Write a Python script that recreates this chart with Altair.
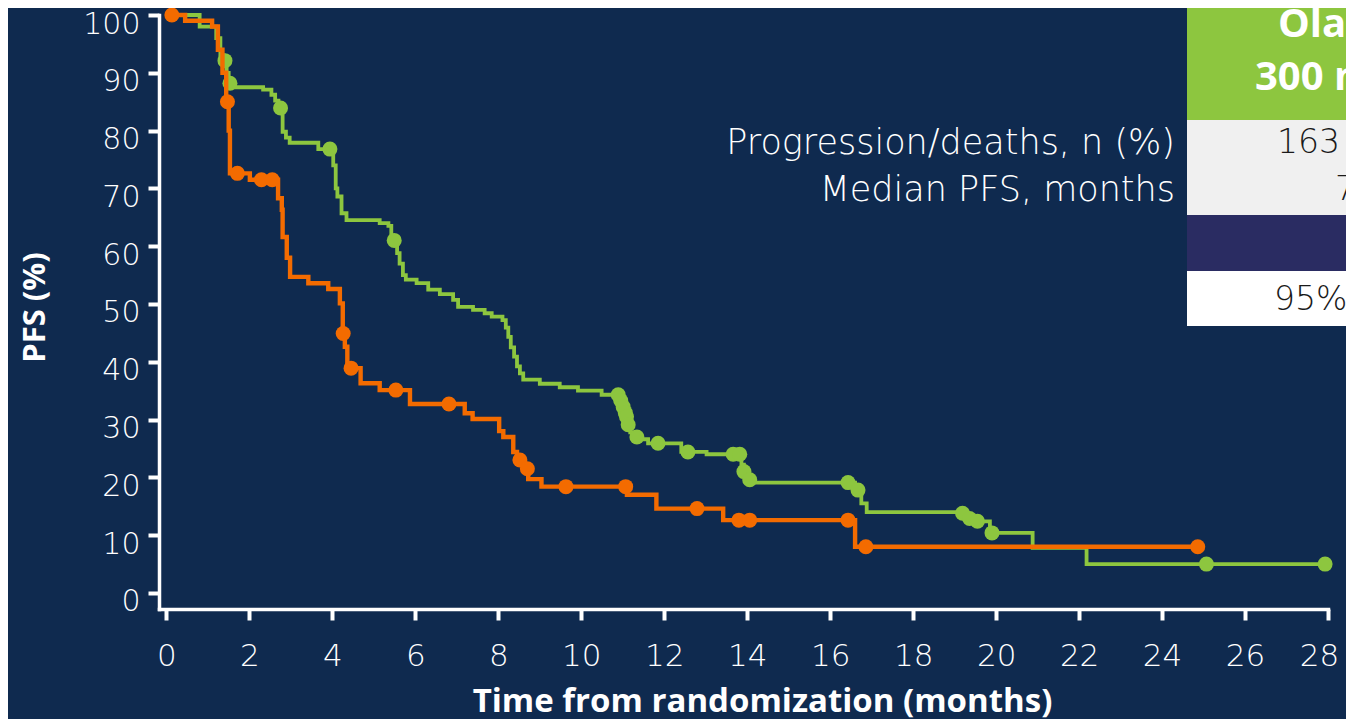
import altair as alt
import pandas as pd

# ---------------- data ----------------
# Olaparib arm (green) – step curve: time (months) and PFS (%) after each step
green_t = [0, 0.8, 1.2, 1.3, 1.38, 1.45, 1.5, 1.6, 2.33, 2.53, 2.62, 2.70, 2.80, 2.88, 2.97,
           3.66, 4.02, 4.08, 4.12, 4.22, 4.34, 5.14, 5.35, 5.42, 5.56, 5.62, 5.70, 5.77,
           6.03, 6.31, 6.59, 6.91, 7.03, 7.39, 7.67, 7.84, 8.10, 8.18, 8.24, 8.30, 8.38,
           8.45, 8.52, 8.60, 9.00, 9.48, 9.92, 10.49, 10.93, 10.98, 11.03, 11.07, 11.10,
           11.18, 11.30, 11.40, 11.61, 12.41, 13.02, 13.86, 13.92, 13.98, 14.12, 16.60,
           16.75, 16.88, 19.28, 19.45, 19.85, 20.88, 22.18, 27.93]
green_v = [100, 98, 96, 93, 92.1, 90, 88.2, 87.5, 87.1, 86.2, 85.2, 83.9, 79.8, 78.8, 77.9,
           76.8, 74, 70, 68.6, 65.7, 64.5, 64.0, 63.5, 61.0, 58.8, 57.0, 55.0, 54.2,
           53.6, 52.5, 51.7, 50.7, 49.5, 49.0, 48.4, 47.8, 47.2, 45.9, 44.3, 42.5, 40.9,
           39.2, 38.0, 36.9, 36.2, 35.6, 35.0, 34.3, 33.3, 32.2, 31.2, 30.5, 29.1,
           27.8, 27.0, 26.6, 25.9, 24.4, 24.0, 22.2, 21.0, 19.6, 19.1, 17.8,
           15.5, 14.0, 12.9, 12.4, 10.4, 7.8, 5.0, 5.0]
green_cens_t = [1.41, 1.53, 2.75, 3.94, 5.49, 10.89, 10.95, 11.01, 11.06, 11.09, 11.13, 11.34,
                11.85, 12.57, 13.66, 13.82, 13.92, 14.06, 16.43, 16.67, 19.19, 19.36, 19.55,
                19.90, 25.07, 27.93]
green_cens_v = [92.1, 88.2, 83.9, 76.8, 61.0, 34.3, 33.3, 32.2, 31.2, 30.5, 29.1, 27.0,
                25.9, 24.4, 24.0, 24.0, 21.0, 19.6, 19.1, 17.8, 13.8, 12.9, 12.4,
                10.4, 5.0, 5.0]

# Control arm (orange)
orange_t = [0, 0.45, 1.1, 1.24, 1.35, 1.44, 1.50, 1.53, 2.01, 2.69, 2.78, 2.80, 2.90, 2.98,
            3.42, 3.90, 4.18, 4.25, 4.30, 4.36, 4.68, 5.14, 5.87, 7.19, 7.38, 8.02, 8.12,
            8.36, 8.45, 8.62, 8.72, 9.04, 11.10, 11.81, 13.42, 16.60, 24.86]
orange_v = [100, 99, 98, 94, 90, 85, 80, 72.6, 71.5, 68.3, 66.3, 61.6, 58.0, 54.7,
            53.6, 52.6, 50.1, 44.9, 42.6, 38.9, 36.3, 35.1, 32.7, 31.1, 30.1, 28.0, 27.0,
            24.4, 23.0, 21.5, 19.7, 18.4, 17.0, 14.6, 12.6, 8.0, 8.0]
orange_cens_t = [0.13, 1.47, 1.71, 2.29, 2.55, 4.26, 4.45, 5.53, 6.81, 8.52, 8.70, 9.63, 11.07,
                 12.79, 13.80, 14.06, 16.43, 16.86, 24.86]
orange_cens_v = [100, 85.0, 72.6, 71.5, 71.5, 44.9, 38.9, 35.1, 32.7, 23.0, 21.5, 18.4, 18.4,
                 14.6, 12.6, 12.6, 12.6, 8.0, 8.0]

x_ticks = list(range(0, 29, 2))
y_ticks = list(range(0, 101, 10))

row_labels = ["Progression/deaths, n (%)", "Median PFS, months"]
header_lines = ["Olaparib", "300 mg"]
cell_values = ["163", "7", "95%"]

# ---------------- styling ----------------
BG = "#0f2a4f"
GREEN = "#8dc63f"
ORANGE = "#f36b00"
BOLDFONT = "Open Sans"
TEXTFONT = "DejaVu Sans"

W, H = 1169, 594
X_DOM = [-0.18, 28]
Y_DOM = [-2.77, 100]

green_df = pd.DataFrame({"t": green_t, "v": green_v})
orange_df = pd.DataFrame({"t": orange_t, "v": orange_v})
green_c = pd.DataFrame({"t": green_cens_t, "v": green_cens_v})
orange_c = pd.DataFrame({"t": orange_cens_t, "v": orange_cens_v})

xs = alt.Scale(domain=X_DOM, nice=False, zero=False)
ys = alt.Scale(domain=Y_DOM, nice=False, zero=False)

x_axis = alt.Axis(values=x_ticks, title="Time from randomization (months)",
                  labelPadding=21, titleX=603, titleY=92, titleAlign="center",
                  titleBaseline="middle", labelFlush=False, titleFontSize=33,
                  labelOffset={"condition": {"test": "datum.value === 28", "value": -9},
                               "value": 0})
y_axis = alt.Axis(values=y_ticks, title="PFS (%)", labelPadding=8,
                  titleX=-124, titleY=292, titleAlign="center",
                  titleBaseline="middle", titleAngle=270, labelOffset=9,
                  titleFontSize=31, labelFontSize=30)

base_line = alt.Chart(green_df).mark_line(
    interpolate="step-after", color=GREEN, strokeWidth=3.8
).encode(
    x=alt.X("t:Q", scale=xs, axis=x_axis),
    y=alt.Y("v:Q", scale=ys, axis=y_axis),
)
green_pts = alt.Chart(green_c).mark_circle(color=GREEN, size=225, opacity=1).encode(
    x=alt.X("t:Q", scale=xs), y=alt.Y("v:Q", scale=ys)
)
orange_line = alt.Chart(orange_df).mark_line(
    interpolate="step-after", color=ORANGE, strokeWidth=4.4
).encode(x=alt.X("t:Q", scale=xs), y=alt.Y("v:Q", scale=ys))
orange_pts = alt.Chart(orange_c).mark_circle(color=ORANGE, size=225, opacity=1).encode(
    x=alt.X("t:Q", scale=xs), y=alt.Y("v:Q", scale=ys)
)

# ---------------- table overlay (pixel positions relative to plot area) ----------------
table_rects = pd.DataFrame({
    "x0": [1028] * 4, "x1": [1195] * 4,
    "y0": [-20, 105, 200, 256], "y1": [105, 200, 256, 311],
    "fill": [GREEN, "#f0f0f0", "#2a2c62", "#ffffff"],
})
rects = alt.Chart(table_rects).mark_rect().encode(
    x=alt.X("x0:Q", scale=None), x2="x1:Q",
    y=alt.Y("y0:Q", scale=None), y2="y1:Q",
    color=alt.Color("fill:N", scale=None),
)

lab_df = pd.DataFrame({"x": [1016, 1016], "y": [128, 175], "text": row_labels})
labels = alt.Chart(lab_df).mark_text(
    align="right", baseline="middle", font=TEXTFONT, fontSize=35, fontWeight=300,
    color="white"
).encode(x=alt.X("x:Q", scale=None), y=alt.Y("y:Q", scale=None), text="text:N")

head_df = pd.DataFrame({"x": [1119, 1096], "y": [10, 63], "text": header_lines})
header = alt.Chart(head_df).mark_text(
    align="left", baseline="middle", font=BOLDFONT, fontSize=40, fontWeight="bold",
    color="white"
).encode(x=alt.X("x:Q", scale=None), y=alt.Y("y:Q", scale=None), text="text:N")

cell_df = pd.DataFrame({"x": [1118, 1176, 1115], "y": [128, 175, 285], "text": cell_values})
cells = alt.Chart(cell_df).mark_text(
    align="left", baseline="middle", font=TEXTFONT, fontSize=33, fontWeight=300,
    color="#1a1a1a"
).encode(x=alt.X("x:Q", scale=None), y=alt.Y("y:Q", scale=None), text="text:N")

chart = alt.layer(
    base_line, green_pts, orange_line, orange_pts, rects, labels, header, cells
).properties(
    width=W, height=H,
    autosize=alt.AutoSizeParams(type="none"),
    padding={"left": 151, "top": 7, "right": 18, "bottom": 110},
    background=BG,
).configure_view(stroke=None).configure_axis(
    grid=False,
    domainColor="white", domainWidth=3.5, domainCap="square",
    tickColor="white", tickWidth=4, tickSize=11,
    labelColor="white", labelFont=TEXTFONT, labelFontSize=31, labelFontWeight=300,
    titleColor="white", titleFont=BOLDFONT, titleFontWeight="bold",
)

chart.save("out.html", embed_options={"renderer": "svg", "actions": False})
